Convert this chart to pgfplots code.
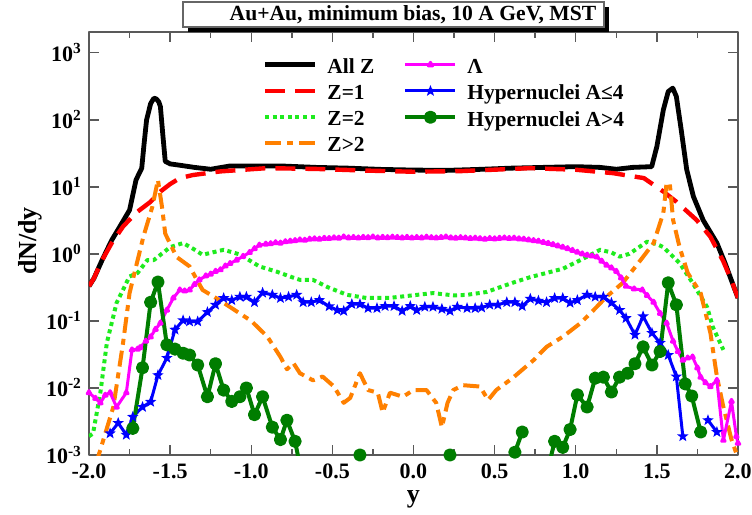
\documentclass[border=0pt]{standalone}
\usepackage{fontspec}
\setmainfont{Liberation Serif}
\usepackage{pgfplots}
\pgfplotsset{compat=1.18}
\usetikzlibrary{plotmarks}
\definecolor{zred}{RGB}{255,0,0}
\definecolor{zgreen}{RGB}{30,235,30}
\definecolor{zorange}{RGB}{255,128,0}
\definecolor{lmag}{RGB}{255,0,255}
\definecolor{hblue}{RGB}{0,0,255}
\definecolor{hgreen}{RGB}{0,125,0}
\pgfdeclareplotmark{fstar}{%
  \pgfpathmoveto{\pgfpointpolar{90}{\pgfplotmarksize}}%
  \pgfpathlineto{\pgfpointpolar{126}{0.42\pgfplotmarksize}}%
  \pgfpathlineto{\pgfpointpolar{162}{\pgfplotmarksize}}%
  \pgfpathlineto{\pgfpointpolar{198}{0.42\pgfplotmarksize}}%
  \pgfpathlineto{\pgfpointpolar{234}{\pgfplotmarksize}}%
  \pgfpathlineto{\pgfpointpolar{270}{0.42\pgfplotmarksize}}%
  \pgfpathlineto{\pgfpointpolar{306}{\pgfplotmarksize}}%
  \pgfpathlineto{\pgfpointpolar{342}{0.42\pgfplotmarksize}}%
  \pgfpathlineto{\pgfpointpolar{18}{\pgfplotmarksize}}%
  \pgfpathlineto{\pgfpointpolar{54}{0.42\pgfplotmarksize}}%
  \pgfpathclose\pgfusepathqfill}
\begin{document}
\begin{tikzpicture}
\begin{axis}[
  at={(0pt,0pt)}, anchor=south west,
  scale only axis, width=324.5pt, height=211.5pt,
  xmin=-2, xmax=2, ymode=log, log basis y=10, ymin=1e-3, ymax=2040,
  xtick={-2,-1.5,-1,-0.5,0,0.5,1,1.5,2},
  xticklabels={-2.0,-1.5,-1.0,-0.5,0.0,0.5,1.0,1.5,2.0},
  minor x tick num=1,
  ytick={1e-3,1e-2,1e-1,1,10,100,1000},
  yticklabels={10\textsuperscript{-3},10\textsuperscript{-2},10\textsuperscript{-1},10\textsuperscript{0},10\textsuperscript{1},10\textsuperscript{2},10\textsuperscript{3}},
  tick align=inside, tick pos=both,
  major tick length=5pt, minor tick length=3pt,
  axis line style={black!65, line width=0.9pt},
  every tick/.style={black!65, line width=0.7pt},
  ticklabel style={font=\fontsize{11}{13}\selectfont\bfseries},
  xticklabel style={yshift=-1pt},
  xlabel={y}, ylabel={dN/dy},
  label style={font=\fontsize{13}{15}\selectfont\bfseries},
  xlabel style={at={(axis description cs:0.5,-0.113)}, anchor=base},
  ylabel style={at={(axis description cs:-0.091,0.506)}, anchor=center},
  unbounded coords=jump,
  legend columns=2, legend cell align=left,
  legend style={draw=none, fill=none, at={(rel axis cs:0.267,0.947)}, anchor=north west,
    inner sep=0pt, font=\fontsize{10.7}{12}\selectfont\bfseries, row sep=0.2pt, column sep=3pt,
    /tikz/every even column/.append style={column sep=12.5pt}},
  legend image code/.code={\draw[mark repeat=2,mark phase=2,#1] plot coordinates {(0pt,1.5pt) (12.5pt,1.5pt) (25pt,1.5pt)};},
  line join=round,
]
% All Z
\addplot[black, line width=2.4pt, forget plot] coordinates {
(-2.00,0.33) (-1.97,0.43) (-1.92,0.8) (-1.86,1.6) (-1.80,2.8) (-1.75,4.5) (-1.71,12.7)
(-1.675,19) (-1.66,45) (-1.645,100) (-1.62,175) (-1.60,210) (-1.585,205) (-1.57,185)
(-1.56,158) (-1.545,60) (-1.53,24) (-1.50,22) (-1.44,21) (-1.35,19.5) (-1.25,18.3)
(-1.13,20.5) (-1.0,20.5) (-0.82,20.5) (-0.6,19.5) (-0.4,19) (-0.2,18.2) (0,17.8)
(0.2,17.6) (0.4,18.2) (0.6,19) (0.8,19.5) (1.0,20) (1.15,19.5) (1.25,18.3) (1.35,19.5)
(1.468,20) (1.50,40) (1.54,141) (1.57,264) (1.598,297) (1.62,223) (1.65,71)
(1.684,18) (1.725,7.2) (1.785,3.2) (1.87,1.45) (1.92,0.73) (1.96,0.4) (2.0,0.22)};
% Z=1
\addplot[zred, line width=2.2pt, dash pattern=on 10pt off 5pt, forget plot] coordinates {
(-2.00,0.33) (-1.97,0.43) (-1.92,0.8) (-1.86,1.45) (-1.79,2.56) (-1.71,4.1) (-1.62,6)
(-1.56,8.5) (-1.50,11) (-1.44,13.5) (-1.36,15) (-1.19,17) (-0.905,19) (-0.6,18.5)
(-0.3,17.5) (0,16.8) (0.3,17.2) (0.72,19) (1.0,18) (1.23,16) (1.42,13.5) (1.54,8.5)
(1.62,6) (1.745,3.2) (1.83,1.8) (1.91,0.77) (1.96,0.4) (2.0,0.22)};
% Z=2
\addplot[zgreen, line width=2pt, dash pattern=on 2pt off 1.8pt, forget plot] coordinates {
(-2.00,0.0019) (-1.975,0.0021) (-1.93,0.0085) (-1.89,0.047) (-1.83,0.186) (-1.75,0.46)
(-1.70,0.52) (-1.64,0.81) (-1.60,0.81) (-1.50,1.26) (-1.42,1.45) (-1.36,1.2) (-1.30,0.97)
(-1.24,1.05) (-1.17,1.15) (-1.07,0.98) (-0.95,0.65) (-0.84,0.54) (-0.75,0.45) (-0.70,0.41)
(-0.62,0.41) (-0.53,0.32) (-0.41,0.245) (-0.29,0.22) (-0.15,0.22) (-0.08,0.23) (0.12,0.26)
(0.25,0.24) (0.33,0.245) (0.45,0.27) (0.61,0.37) (0.72,0.45) (0.82,0.52) (0.92,0.6)
(1.03,0.81) (1.15,1.15) (1.22,1.05) (1.27,0.91) (1.33,1.0) (1.44,1.52) (1.50,1.4)
(1.54,1.26) (1.64,0.73) (1.72,0.37) (1.81,0.16) (1.845,0.081) (1.91,0.037)};
% Z>2
\addplot[zorange, line width=2pt, dash pattern=on 8pt off 3pt on 3pt off 3pt, forget plot] coordinates {
(-1.96,0.0007) (-1.93,0.0012) (-1.85,0.0052) (-1.79,0.047) (-1.75,0.26) (-1.73,0.41)
(-1.665,1.8) (-1.61,5.0) (-1.575,12.7) (-1.55,5) (-1.53,2.0) (-1.46,0.9) (-1.38,0.65)
(-1.335,0.41) (-1.30,0.29) (-1.19,0.2) (-1.0,0.1) (-0.90,0.058) (-0.82,0.029) (-0.78,0.019)
(-0.74,0.0235) (-0.70,0.0166) (-0.62,0.013) (-0.56,0.0148) (-0.49,0.0105) (-0.43,0.006)
(-0.39,0.0071) (-0.33,0.0166) (-0.28,0.0093) (-0.22,0.0085) (-0.19,0.0043) (-0.145,0.0085)
(-0.065,0.0074) (0.0,0.0093) (0.08,0.0093) (0.14,0.006) (0.175,0.0026) (0.21,0.006)
(0.245,0.0093) (0.305,0.011) (0.41,0.0105) (0.46,0.0066) (0.51,0.0093) (0.61,0.014)
(0.74,0.026) (0.82,0.041) (0.92,0.058) (1.03,0.093) (1.11,0.145) (1.19,0.23) (1.29,0.37)
(1.40,0.81) (1.48,1.45) (1.54,4.1) (1.56,11.5) (1.58,11) (1.60,3.2) (1.64,1.26)
(1.69,0.52) (1.77,0.26) (1.83,0.066) (1.87,0.0148) (1.91,0.0052) (1.96,0.0017) (2.0,0.0009)};
% Lambda
\addplot[lmag, line width=1.5pt, mark=triangle*, mark size=1pt, mark options={solid}, forget plot] coordinates {
(-2.00,0.0085) (-1.96,0.0070) (-1.93,0.0060) (-1.90,0.0078) (-1.87,0.0085) (-1.83,0.0052)
(-1.77,0.0085) (-1.735,0.037) (-1.70,0.038) (-1.685,0.040) (-1.65,0.050) (-1.62,0.058)
(-1.59,0.075) (-1.56,0.093) (-1.52,0.145) (-1.48,0.22) (-1.44,0.29) (-1.41,0.28)
(-1.38,0.29) (-1.35,0.35) (-1.32,0.41) (-1.28,0.47) (-1.25,0.50) (-1.22,0.55) (-1.19,0.58)
(-1.16,0.66) (-1.13,0.72) (-1.09,0.81) (-1.05,0.92) (-1.01,1.05) (-0.98,1.20) (-0.95,1.35)
(-0.91,1.40) (-0.88,1.42) (-0.85,1.47) (-0.82,1.45) (-0.79,1.52) (-0.76,1.55) (-0.73,1.58)
(-0.70,1.62) (-0.67,1.60) (-0.64,1.66) (-0.61,1.68) (-0.58,1.66) (-0.55,1.71) (-0.52,1.70)
(-0.49,1.74) (-0.46,1.72) (-0.43,1.79) (-0.40,1.74) (-0.37,1.76) (-0.34,1.73) (-0.31,1.77)
(-0.28,1.75) (-0.25,1.79) (-0.22,1.74) (-0.19,1.77) (-0.16,1.75) (-0.13,1.78) (-0.10,1.76)
(-0.07,1.74) (-0.04,1.77) (-0.01,1.73) (0.02,1.76) (0.05,1.74) (0.08,1.78) (0.11,1.75)
(0.14,1.73) (0.17,1.76) (0.20,1.79) (0.23,1.74) (0.26,1.72) (0.29,1.75) (0.32,1.73)
(0.35,1.70) (0.38,1.72) (0.41,1.69) (0.44,1.66) (0.47,1.70) (0.50,1.68) (0.53,1.71)
(0.56,1.73) (0.59,1.70) (0.62,1.72) (0.65,1.68) (0.68,1.66) (0.71,1.62) (0.74,1.58)
(0.77,1.55) (0.80,1.49) (0.83,1.44) (0.86,1.38) (0.89,1.32) (0.92,1.26) (0.95,1.20)
(0.98,1.13) (1.01,1.06) (1.04,1.00) (1.07,0.96) (1.10,0.93) (1.13,0.90) (1.16,0.78)
(1.19,0.68) (1.22,0.62) (1.25,0.55) (1.28,0.44) (1.31,0.33) (1.36,0.30) (1.41,0.29)
(1.44,0.24) (1.48,0.19) (1.52,0.13) (1.56,0.093) (1.60,0.05) (1.63,0.035) (1.66,0.026)
(1.69,0.028) (1.72,0.029) (1.75,0.020) (1.77,0.0145) (1.80,0.012) (1.83,0.0105)
(1.87,0.013) (1.91,0.00166) (1.96,0.0063) (1.99,0.0019) (2.0,0.0015)};
% Hypernuclei A<=4
\addplot[hblue, line width=1.5pt, mark=fstar, mark size=3pt, mark options={solid}, forget plot] coordinates {
(-1.87,0.0021) (-1.82,0.0030) (-1.77,0.0020) (-1.73,0.0037) (-1.67,0.0052) (-1.62,0.0062)
(-1.575,0.0155) (-1.52,0.028) (-1.47,0.074) (-1.42,0.102) (-1.38,0.098) (-1.33,0.098)
(-1.27,0.135) (-1.22,0.174) (-1.17,0.219) (-1.12,0.204) (-1.07,0.229) (-1.03,0.229)
(-0.98,0.19) (-0.93,0.263) (-0.87,0.245) (-0.82,0.219) (-0.77,0.229) (-0.72,0.245)
(-0.68,0.19) (-0.63,0.19) (-0.58,0.204) (-0.52,0.165) (-0.47,0.145) (-0.43,0.141)
(-0.38,0.178) (-0.33,0.178) (-0.28,0.155) (-0.225,0.155) (-0.175,0.166) (-0.12,0.166)
(-0.07,0.141) (-0.02,0.166) (0.02,0.145) (0.07,0.162) (0.12,0.162) (0.175,0.151)
(0.225,0.141) (0.27,0.162) (0.33,0.155) (0.38,0.155) (0.42,0.158) (0.47,0.174)
(0.52,0.174) (0.575,0.19) (0.625,0.19) (0.67,0.166) (0.72,0.214) (0.77,0.2) (0.82,0.19)
(0.87,0.219) (0.92,0.219) (0.965,0.186) (1.01,0.204) (1.07,0.245) (1.12,0.229)
(1.17,0.229) (1.22,0.186) (1.27,0.145) (1.31,0.11) (1.365,0.062) (1.415,0.117)
(1.47,0.066) (1.52,0.047) (1.57,0.031) (1.62,0.0148) (1.66,0.0019) (1.74,nan)
(1.815,0.0033) (1.87,0.0022)};
% Hypernuclei A>4
\addplot[hgreen, line width=2pt, mark=*, mark size=2.3pt, mark options={solid}, forget plot] coordinates {
(-1.73,0.0025) (-1.67,0.020) (-1.62,0.19) (-1.575,0.38) (-1.52,0.044) (-1.47,0.038)
(-1.42,0.033) (-1.38,0.031) (-1.33,0.022) (-1.27,0.0074) (-1.22,0.023) (-1.17,0.0093)
(-1.12,0.0063) (-1.07,0.0074) (-1.03,0.010) (-0.98,0.0040) (-0.93,0.0074) (-0.87,0.0026)
(-0.82,0.0017) (-0.78,0.0033) (-0.73,0.0016) (-0.68,0.0004) (-0.5,nan)
(-0.33,0.001) (0,nan) (0.225,0.001) (0.4,nan)
(0.625,0.0011) (0.67,0.0022) (0.75,nan) (0.82,0.0005)
(0.87,0.0016) (0.92,0.0013) (0.965,0.0024) (1.01,0.0079) (1.07,0.0052) (1.12,0.014)
(1.17,0.0145) (1.22,0.0087) (1.27,0.0145) (1.32,0.0166) (1.365,0.023) (1.415,0.041)
(1.47,0.022) (1.52,0.035) (1.57,0.37) (1.62,0.174) (1.675,0.0115) (1.715,0.0076) (1.77,0.0022)};
% legend
\addlegendimage{black, line width=2.4pt}\addlegendentry{All Z}
\addlegendimage{lmag, line width=1.5pt, mark=triangle*, mark size=1.2pt}\addlegendentry{Λ}
\addlegendimage{zred, line width=2.2pt, dash pattern=on 10pt off 5pt}\addlegendentry{Z=1}
\addlegendimage{hblue, line width=1.5pt, mark=fstar, mark size=3pt}\addlegendentry{Hypernuclei A≤4}
\addlegendimage{zgreen, line width=2pt, dash pattern=on 2pt off 1.8pt}\addlegendentry{Z=2}
\addlegendimage{hgreen, line width=2pt, mark=*, mark size=2.3pt}\addlegendentry{Hypernuclei A>4}
\addlegendimage{zorange, line width=2pt, dash pattern=on 8pt off 3pt on 3pt off 3pt}\addlegendentry{Z>2}
\end{axis}
\fill[black] (49.5pt,211.5pt) rectangle (260pt,224pt);
\filldraw[fill=white, draw=black!60, line width=0.6pt] (47pt,214pt) rectangle (257.5pt,226.5pt);
\node[font=\fontsize{10.8}{13}\selectfont\bfseries, inner sep=0pt] at (162pt,220.2pt) {Au+Au, minimum bias, 10 A GeV, MST};
\pgfresetboundingbox
\path[use as bounding box] (-44.5pt,-30pt) rectangle (331.5pt,227.5pt);
\end{tikzpicture}
\end{document}
